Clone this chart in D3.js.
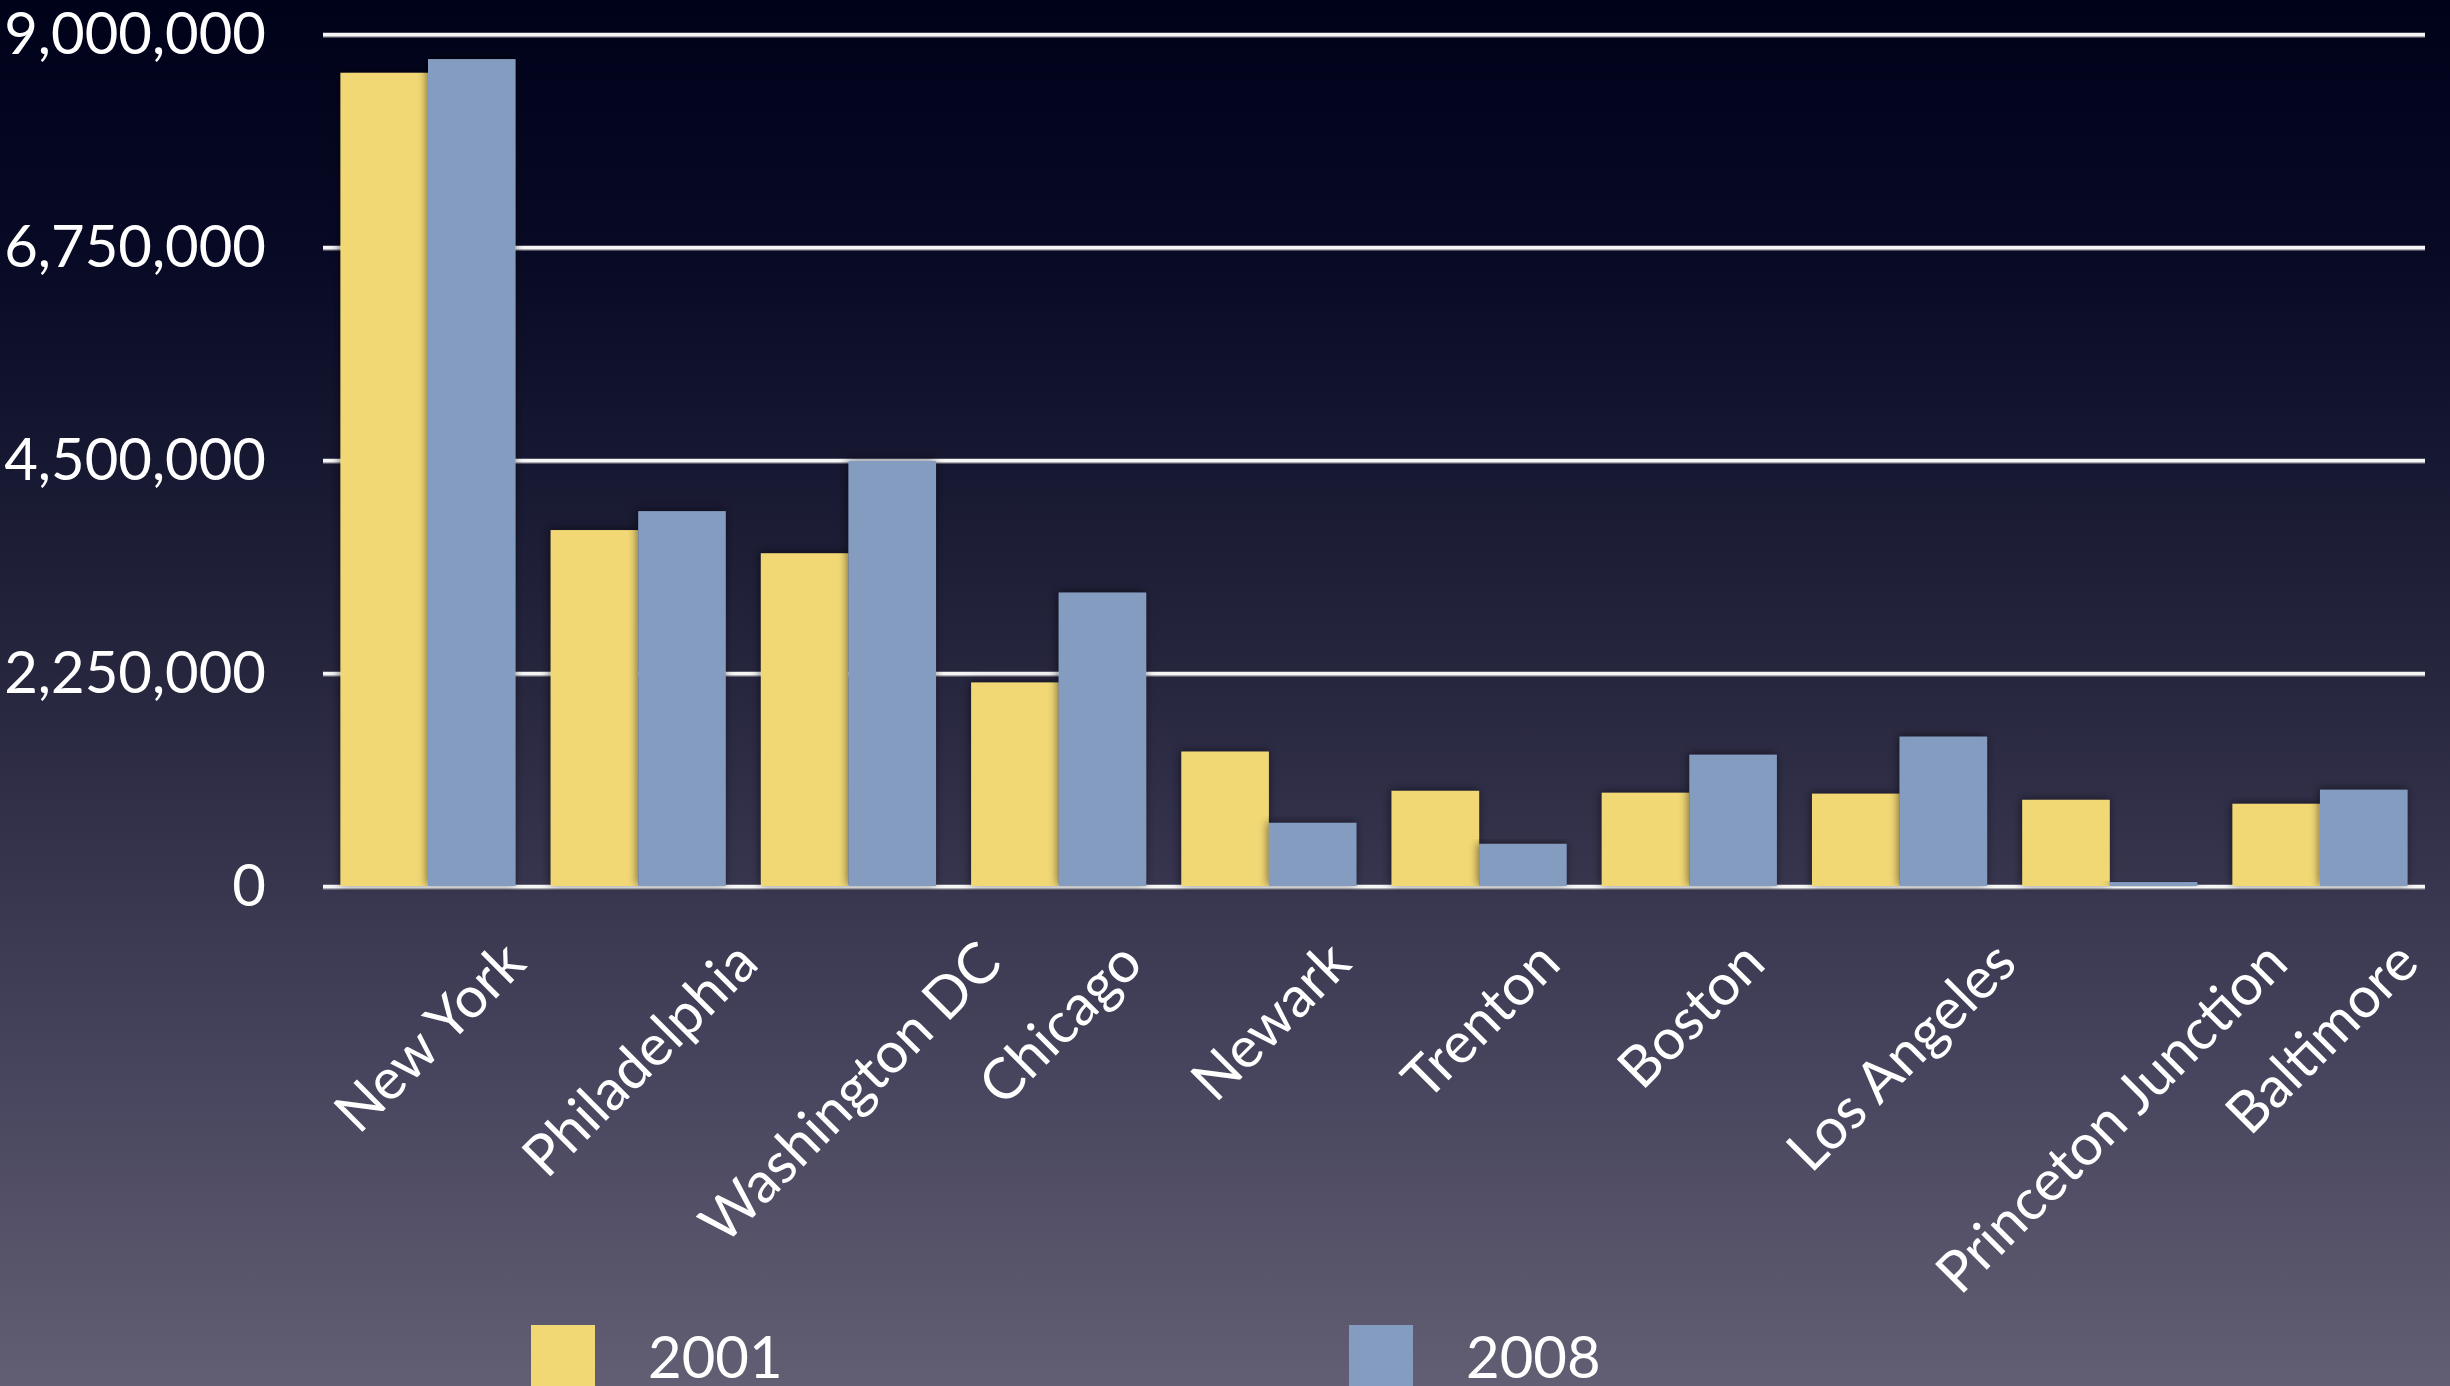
<!DOCTYPE html>
<html>
<head>
<meta charset="utf-8">
<script src="https://cdn.jsdelivr.net/npm/d3@7"></script>
<style>
	html, body { margin: 0; padding: 0; background: #000; }
	svg { display: block; }
	text { font-family: "Lato", "Open Sans", sans-serif; fill: #fff; }
</style>
</head>
<body>
<div id="chart"></div>
<script>

var cities = ["New York", "Philadelphia", "Washington DC", "Chicago", "Newark",
	"Trenton", "Boston", "Los Angeles", "Princeton Junction", "Baltimore"];
var years = ["2001", "2008"];
var values2001 = [8590000, 3760000, 3515000, 2150000, 1420000, 1005000, 985000, 975000, 910000, 868000];
var values2008 = [8735000, 3960000, 4490000, 3100000, 667000, 445000, 1387000, 1578000, 42000, 1017000];
var yTicks = [0, 2250000, 4500000, 6750000, 9000000];
var colors = ["#f2d874", "#859cc1"];

var w = 2450,
	h = 1386,
	plotLeft = 323,
	plotRight = 2425,
	plotTop = 34,
	plotBottom = 886,
	labelTop = 936;

var svg = d3.select("#chart").append("svg")
	.attr("width", w)
	.attr("height", h);

var defs = svg.append("defs");

var bg = defs.append("linearGradient")
	.attr("id", "bg")
	.attr("x1", 0).attr("y1", 0)
	.attr("x2", 0).attr("y2", 1);

[[0, "#00021a"], [0.18, "#080a25"], [0.35, "#181932"], [0.5, "#282740"],
	[0.65, "#393750"], [0.8, "#4a4860"], [1, "#625e73"]].forEach(function(s){
	bg.append("stop").attr("offset", s[0]).attr("stop-color", s[1]);
});

defs.append("filter")
	.attr("id", "shadow")
	.attr("x", "-20%").attr("y", "-10%")
	.attr("width", "140%").attr("height", "120%")
	.append("feDropShadow")
	.attr("dx", -1).attr("dy", -1)
	.attr("stdDeviation", 5)
	.attr("flood-color", "#000")
	.attr("flood-opacity", 0.55);

svg.append("rect")
	.attr("width", w)
	.attr("height", h)
	.attr("fill", "url(#bg)");

var x = d3.scaleBand()
	.domain(cities)
	.range([plotLeft, plotRight])
	.paddingInner(0.167)
	.paddingOuter(0.083);

var xInner = d3.scaleBand()
	.domain(years)
	.range([0, x.bandwidth()]);

var y = d3.scaleLinear()
	.domain([0, 9000000])
	.range([plotBottom, plotTop]);

var color = d3.scaleOrdinal()
	.domain(years)
	.range(colors);

// y axis with gridlines across the plot
var yAxis = svg.append("g")
	.attr("transform", "translate(" + plotLeft + ",0)")
	.call(d3.axisLeft(y)
		.tickValues(yTicks)
		.tickFormat(d3.format(","))
		.tickSize(-(plotRight - plotLeft))
		.tickPadding(57));

yAxis.select(".domain").remove();

// grey edge under each white gridline
yAxis.selectAll(".tick")
	.insert("line", "line")
	.attr("x2", plotRight - plotLeft)
	.attr("y1", 2)
	.attr("y2", 2)
	.attr("stroke", "#9a98a4")
	.attr("stroke-width", 2);

yAxis.selectAll(".tick line:last-of-type")
	.attr("stroke", "#f6f6f6")
	.attr("stroke-width", 3.5);

yAxis.selectAll(".tick text")
	.attr("font-size", 58)
	.attr("dy", "0.34em")
	.attr("font-family", "Lato, 'Open Sans', sans-serif")
	.attr("fill", "#fff");

// bars
var rows = cities.map(function(c, i){
	return { city: c, values: [
		{ year: years[0], value: values2001[i] },
		{ year: years[1], value: values2008[i] }
	]};
});

var groups = svg.append("g")
	.selectAll("g")
	.data(rows)
	.join("g")
	.attr("transform", function(d){ return "translate(" + x(d.city) + ",0)"; });

groups.selectAll("rect")
	.data(function(d){ return d.values; })
	.join("rect")
	.attr("x", function(d){ return xInner(d.year); })
	.attr("y", function(d){ return y(d.value); })
	.attr("width", xInner.bandwidth())
	.attr("height", function(d){ return y(0) - y(d.value); })
	.attr("fill", function(d){ return color(d.year); })
	.attr("filter", "url(#shadow)");

// rotated city labels, centred on each group, tops aligned
var fs = 57;
var labels = svg.append("g")
	.selectAll("text")
	.data(cities)
	.join("text")
	.attr("font-size", fs)
	.attr("text-anchor", "middle")
	.attr("dominant-baseline", "central")
	.text(function(d){ return d; });

labels.each(function(d){
	var len = this.getComputedTextLength(),
		cx = x(d) + x.bandwidth() / 2,
		cy = labelTop + (len + fs * 0.72) * Math.SQRT1_2 / 2;
	d3.select(this)
		.attr("transform", "translate(" + cx + "," + cy + ") rotate(-45)");
});

// legend
var legend = svg.append("g")
	.selectAll("g")
	.data(years)
	.join("g")
	.attr("transform", function(d, i){ return "translate(" + (531 + i * 818) + ",1325)"; });

legend.append("rect")
	.attr("width", 64)
	.attr("height", 70)
	.attr("fill", function(d){ return color(d); });

legend.append("text")
	.attr("x", 117)
	.attr("y", 53)
	.attr("font-size", 58)
	.text(function(d){ return d; });

</script>
</body>
</html>
